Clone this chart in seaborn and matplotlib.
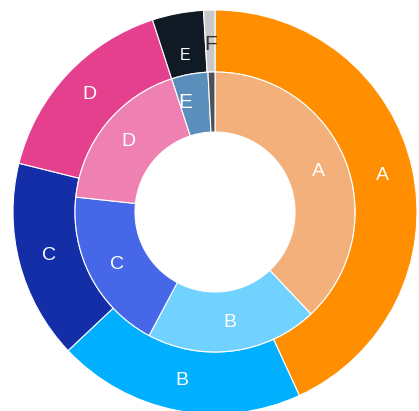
import matplotlib
matplotlib.use("Agg")
import numpy as np
import matplotlib.pyplot as plt
import seaborn as sns

categories = ["A", "B", "C", "D", "E", "F"]
outer_values = [43.1, 19.8, 15.9, 16.1, 4.1, 0.9]
inner_values = [38.0, 19.8, 18.9, 18.3, 4.2, 0.8]
outer_colors = ["#FF8F00", "#00B0FF", "#142EA8", "#E4408E", "#0F1A24", "#C8C8C8"]
inner_colors = ["#F3B07B", "#72D2FF", "#4667E8", "#EE80B2", "#5B8FBB", "#4E5258"]

sns.set_theme(style="white")
plt.rcParams["font.family"] = ["Liberation Sans", "DejaVu Sans"]

fig = plt.figure(figsize=(4.19, 4.11), dpi=100)
ax = fig.add_axes([0, 0, 1, 1])

R = 1.0
r_mid = 140 / 202
r_in = 80 / 202

wp = dict(edgecolor="white", linewidth=0.8)
w_out, t_out = ax.pie(outer_values, labels=categories, colors=outer_colors, radius=R,
                      startangle=90, counterclock=False, labeldistance=0.85,
                      wedgeprops=dict(width=R - r_mid, **wp),
                      textprops=dict(ha="center", va="center", color="white", fontsize=14))
w_in, t_in = ax.pie(inner_values, labels=categories, colors=inner_colors, radius=r_mid,
                    startangle=90, counterclock=False, labeldistance=0.795,
                    wedgeprops=dict(width=r_mid - r_in, **wp),
                    textprops=dict(ha="center", va="center", color="white", fontsize=14))

# label tweaks
x, y = t_out[4].get_position()
t_out[4].set_position((x * 160 / 172, y * 160 / 172))
t_out[4].set_fontsize(11.5)
x, y = t_out[5].get_position()
t_out[5].set_position((x, y * 168 / 172))
t_out[5].set_color("#333333")
t_out[5].set_fontsize(15)
# inner E label sits slightly left of the wedge centre
x, y = t_in[4].get_position()
rr = np.hypot(x, y) * 1.02
ang = np.arctan2(y, x) + np.deg2rad(4.5)
t_in[4].set_position((rr * np.cos(ang), rr * np.sin(ang)))
t_in[4].set_fontsize(15)
t_in[5].set_visible(False)

ax.set_xlim(-215 / 202, 204 / 202)
ax.set_ylim(-199 / 202, 212 / 202)
ax.set_aspect("auto")
ax.axis("off")

fig.savefig("out.png", dpi=100)
